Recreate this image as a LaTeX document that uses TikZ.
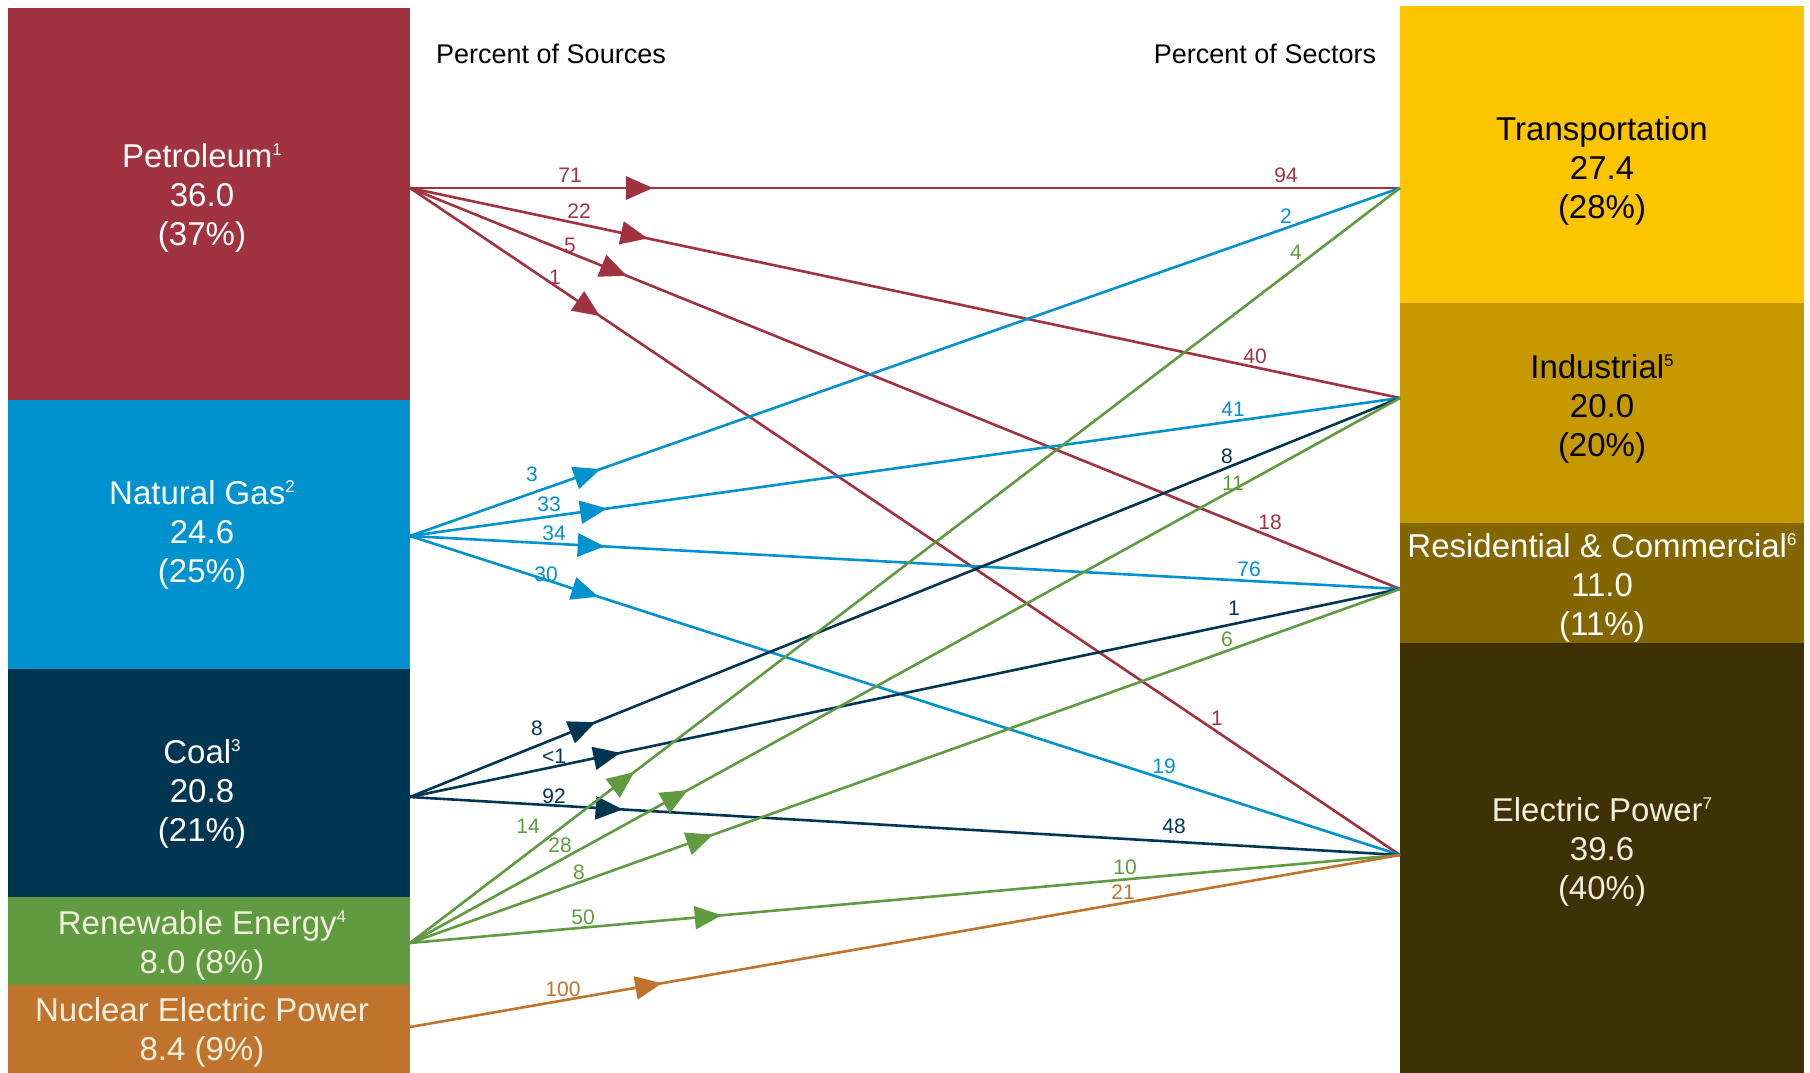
\documentclass[tikz,border=0pt]{standalone}
\usepackage{fontspec}
\setmainfont{Liberation Sans}
\usetikzlibrary{arrows.meta,decorations.markings}
\definecolor{petro}{RGB}{161,50,64}
\definecolor{gas}{RGB}{0,146,207}
\definecolor{coal}{RGB}{0,54,82}
\definecolor{renew}{RGB}{96,155,66}
\definecolor{nucl}{RGB}{192,115,44}
\definecolor{trans}{RGB}{253,196,0}
\definecolor{indus}{RGB}{198,153,0}
\definecolor{resid}{RGB}{131,102,0}
\definecolor{elec}{RGB}{62,49,6}
\definecolor{cream}{RGB}{242,238,222}
\newcommand\supn[1]{\raisebox{12pt}{\fontsize{17}{17}\selectfont #1}}
\begin{document}
\begin{tikzpicture}[x=1pt,y=-1pt,
  blk/.style={rectangle, inner sep=0pt, outer sep=0pt, draw=none},
  boxtxt/.style={align=center, inner sep=0pt, font=\fontsize{33}{39}\selectfont},
  head/.style={inner sep=0pt, font=\fontsize{27}{30}\selectfont, text=black},
  lbl/.style={inner sep=0pt, font=\fontsize{21}{24}\selectfont},
  flow/.style={line width=2.6pt, postaction={decorate},
    decoration={markings, mark=at position #1 with {\arrow{Triangle[length=27pt,width=23pt]}}}}
]
\fill[white] (0,0) rectangle (1810,1073);
\useasboundingbox (0,0) rectangle (1810,1073);

% source boxes
\node[blk, fill=petro, minimum width=402pt, minimum height=392pt] (pet) at (209,204) {};
\node[blk, fill=gas,   minimum width=402pt, minimum height=269pt] (gas) at (209,534.5) {};
\node[blk, fill=coal,  minimum width=402pt, minimum height=228pt] (coa) at (209,783) {};
\node[blk, fill=renew, minimum width=402pt, minimum height=88pt] (ren) at (209,941) {};
\node[blk, fill=nucl,  minimum width=402pt, minimum height=88pt] (nuc) at (209,1029) {};

% sector boxes
\node[blk, fill=trans, minimum width=404pt, minimum height=297pt] (tra) at (1602,154.5) {};
\node[blk, fill=indus, minimum width=404pt, minimum height=220pt] (ind) at (1602,413) {};
\node[blk, fill=resid, minimum width=404pt, minimum height=120pt] (res) at (1602,583) {};
\node[blk, fill=elec,  minimum width=404pt, minimum height=430pt] (ele) at (1602,858) {};

% box texts
\node[boxtxt, text=white] (petT) at (202,198) {Petroleum\supn{1}\\36.0\\(37\%)};
\node[boxtxt, text=white] (gasT) at (202,535) {Natural Gas\supn{2}\\24.6\\(25\%)};
\node[boxtxt, text=white] (coaT) at (202,794) {Coal\supn{3}\\20.8\\(21\%)};
\node[boxtxt, text=cream] (renT) at (202,945) {Renewable Energy\supn{4}\\8.0 (8\%)};
\node[boxtxt, text=cream] (nucT) at (202,1032) {Nuclear Electric Power\\8.4 (9\%)};
\node[boxtxt, text=black] (traT) at (1602,171) {Transportation\\27.4\\(28\%)};
\node[boxtxt, text=black] (indT) at (1602,409) {Industrial\supn{5}\\20.0\\(20\%)};
\node[boxtxt, text=white] (resT) at (1602,588) {Residential \& Commercial\supn{6}\\11.0\\(11\%)};
\node[boxtxt, text=cream] (eleT) at (1602,852) {Electric Power\supn{7}\\39.6\\(40\%)};

% headings
\node[head] (hsrc) at (551,54) {Percent of Sources};
\node[head] (hsec) at (1265,54) {Percent of Sectors};

% ports
\coordinate (pet-o) at (410,188);
\coordinate (gas-o) at (410,536);
\coordinate (coa-o) at (410,797);
\coordinate (ren-o) at (410,943);
\coordinate (nuc-o) at (410,1027);
\coordinate (tra-i) at (1400,188);
\coordinate (ind-i) at (1400,398);
\coordinate (res-i) at (1400,589);
\coordinate (ele-i) at (1400,855);

% petroleum flows
\draw[flow=243pt, petro] (pet-o) -- (tra-i);
\draw[flow=243pt, petro] (pet-o) -- (ind-i);
\draw[flow=234pt, petro] (pet-o) -- (res-i);
\draw[flow=229pt, petro] (pet-o) -- (ele-i);
% natural gas flows
\draw[flow=202pt, gas] (gas-o) -- (tra-i);
\draw[flow=199pt, gas] (gas-o) -- (ind-i);
\draw[flow=195pt, gas] (gas-o) -- (res-i);
\draw[flow=198pt, gas] (gas-o) -- (ele-i);
% coal flows
\draw[flow=200pt, coal] (coa-o) -- (ind-i);
\draw[flow=215pt, coal] (coa-o) -- (res-i);
\draw[flow=213pt, coal] (coa-o) -- (ele-i);
% renewable flows
\draw[flow=282pt, renew] (ren-o) -- (tra-i);
\draw[flow=317pt, renew] (ren-o) -- (ind-i);
\draw[flow=322pt, renew] (ren-o) -- (res-i);
\draw[flow=313pt, renew] (ren-o) -- (ele-i);
% nuclear flow
\draw[flow=256pt, nucl] (nuc-o) -- (ele-i);

% source-side labels
\node[lbl, text=petro] (l1) at (570,175) {71};
\node[lbl, text=petro] (l2) at (579,211) {22};
\node[lbl, text=petro] (l3) at (570,245) {5};
\node[lbl, text=petro] (l4) at (555,277) {1};
\node[lbl, text=gas] (l5) at (532,474) {3};
\node[lbl, text=gas] (l6) at (549,504) {33};
\node[lbl, text=gas] (l7) at (554,533) {34};
\node[lbl, text=gas] (l8) at (546,574) {30};
\node[lbl, text=coal] (l9) at (537,728) {8};
\node[lbl, text=coal] (l10) at (554,756) {<1};
\node[lbl, text=coal] (l11) at (554,796) {92};
\node[lbl, text=renew] (l12) at (528,826) {14};
\node[lbl, text=renew] (l13) at (560,845) {28};
\node[lbl, text=renew] (l14) at (579,872) {8};
\node[lbl, text=renew] (l15) at (583,917) {50};
\node[lbl, text=nucl] (l16) at (563,989) {100};

% sector-side labels
\node[lbl, text=petro] (r1) at (1286,175) {94};
\node[lbl, text=gas] (r2) at (1286,216) {2};
\node[lbl, text=renew] (r3) at (1296,252) {4};
\node[lbl, text=petro] (r4) at (1255,356) {40};
\node[lbl, text=gas] (r5) at (1233,409) {41};
\node[lbl, text=coal] (r6) at (1227,456) {8};
\node[lbl, text=renew] (r7) at (1233,483) {11};
\node[lbl, text=petro] (r8) at (1270,522) {18};
\node[lbl, text=gas] (r9) at (1249,569) {76};
\node[lbl, text=coal] (r10) at (1234,608) {1};
\node[lbl, text=renew] (r11) at (1227,639) {6};
\node[lbl, text=petro] (r12) at (1217,718) {1};
\node[lbl, text=gas] (r13) at (1164,766) {19};
\node[lbl, text=coal] (r14) at (1174,826) {48};
\node[lbl, text=renew] (r15) at (1125,867) {10};
\node[lbl, text=nucl] (r16) at (1123,892) {21};
\end{tikzpicture}
\end{document}
